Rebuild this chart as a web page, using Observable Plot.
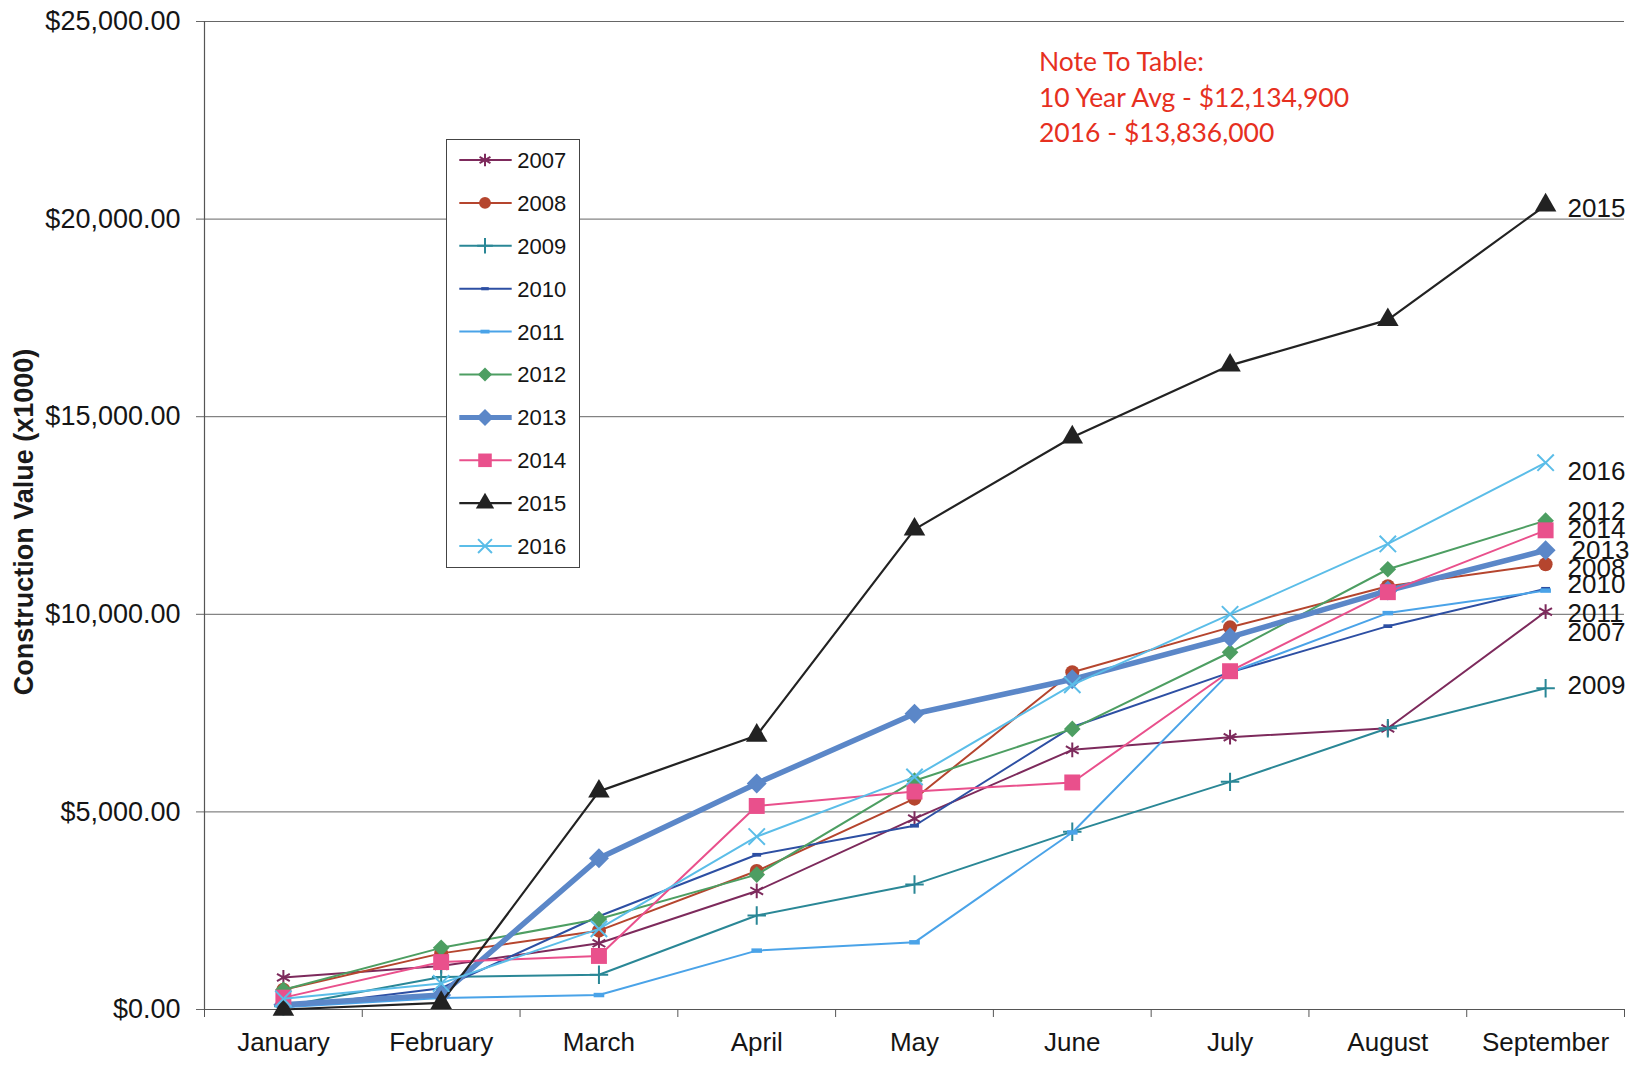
<!DOCTYPE html>
<html><head><meta charset="utf-8">
<script src="https://cdn.jsdelivr.net/npm/d3@7"></script>
<script src="https://cdn.jsdelivr.net/npm/@observablehq/plot@0.6"></script>
<style>
html,body{margin:0;padding:0;background:#fff;}
#wrap{position:relative;width:1638px;height:1066px;overflow:hidden;font-family:"Liberation Sans",Arial,sans-serif;background:#fff;}
#chart{position:absolute;left:0;top:0;}
#ytitle{position:absolute;left:24px;top:522px;transform:translate(-50%,-50%) rotate(-90deg);font-weight:bold;font-size:27px;white-space:nowrap;color:#1a1a1a;}
#note{position:absolute;left:1039px;top:44px;font-family:Lato,"Open Sans",sans-serif;font-size:26.5px;line-height:35.5px;color:#e6301f;white-space:nowrap;}
#legend{position:absolute;left:446px;top:139px;width:134px;height:429px;box-sizing:border-box;border:1.3px solid #444;background:#fff;}
#legend svg{position:absolute;left:-1.3px;top:-1.3px;}
</style></head><body>
<div id="wrap">
  <div id="chart"></div>
  <div id="ytitle">Construction Value (x1000)</div>
  <div id="note">Note To Table:<br>10 Year Avg - $12,134,900<br>2016 - $13,836,000</div>
  <div id="legend"></div>
</div>
<script>
// ---- data ----
const months = ["January","February","March","April","May","June","July","August","September"];
const years = ["2007","2008","2009","2010","2011","2012","2013","2014","2015","2016"];
const s2007 = [810, 1100, 1675, 3000, 4830, 6570, 6890, 7115, 10065];
const s2008 = [500, 1420, 1995, 3505, 5335, 8535, 9670, 10710, 11265];
const s2009 = [80, 820, 880, 2380, 3165, 4500, 5760, 7115, 8130];
const s2010 = [50, 540, 2360, 3915, 4650, 7150, 8530, 9700, 10645];
const s2011 = [60, 290, 366, 1490, 1700, 4480, 8530, 10030, 10600];
const s2012 = [500, 1560, 2290, 3413, 5790, 7100, 9040, 11140, 12370];
const s2013 = [120, 370, 3825, 5720, 7485, 8355, 9420, 10600, 11620];
const s2014 = [300, 1200, 1355, 5150, 5515, 5745, 8560, 10560, 12125];
const s2015 = [0, 170, 5520, 6935, 12150, 14480, 16300, 17450, 20350];
const s2016 = [270, 660, 2040, 4375, 5885, 8215, 10000, 11780, 13836];
const yTicks = [0, 5000, 10000, 15000, 20000, 25000];

const seriesValues = {"2007":s2007,"2008":s2008,"2009":s2009,"2010":s2010,"2011":s2011,
  "2012":s2012,"2013":s2013,"2014":s2014,"2015":s2015,"2016":s2016};

// ---- styles ----
const dash = {draw(ctx, size){ const w = Math.sqrt(size)/2, h = w*0.42;
  ctx.moveTo(-w,-h); ctx.lineTo(w,-h); ctx.lineTo(w,h); ctx.lineTo(-w,h); ctx.closePath(); }};
const styles = {
  "2007": {color:"#7d2a5c", width:2,   symbol:"asterisk", r:7,   filled:false, dy:21},
  "2008": {color:"#b5452e", width:2,   symbol:"circle",   r:7,   filled:true,  dy:4},
  "2009": {color:"#2a8796", width:2,   symbol:"plus",     r:6,   filled:false, dy:-3},
  "2010": {color:"#2d4fa3", width:2,   symbol:dash,       r:5,   filled:true,  dy:-4},
  "2011": {color:"#4aa3e8", width:2,   symbol:dash,       r:6,   filled:true,  dy:23},
  "2012": {color:"#4d9e62", width:2,   symbol:"diamond2", r:7.5, filled:true,  dy:-9},
  "2013": {color:"#5b87c8", width:5.5, symbol:"diamond2", r:9,   filled:true,  dy:0, dx:4},
  "2014": {color:"#e9508c", width:2,   symbol:"square",   r:9,   filled:true,  dy:-1},
  "2015": {color:"#222222", width:2.2, symbol:"triangle", r:8,   filled:true,  dy:3},
  "2016": {color:"#5bbde8", width:2,   symbol:"times",    r:7.5, filled:false, dy:9}
};

// ---- build ----
const monthIdx = months.map((m,i)=>i+1);
const bounds = d3.range(0.5, months.length + 1, 1);

const marks = [
  Plot.gridY(yTicks, {stroke:"#666", strokeOpacity:1, strokeWidth:1}),
  Plot.axisY(yTicks, {tickSize:8, tickPadding:16, tickFormat:d3.format("$,.2f"), fontSize:27,
    label:null, stroke:"#666", fill:"#151515"}),
  Plot.ruleX([0.5], {stroke:"#555", strokeWidth:1.2}),
  Plot.ruleY([0], {stroke:"#555", strokeWidth:1.2}),
  Plot.axisX(bounds, {tickSize:8, tickFormat:()=>"", stroke:"#555", label:null}),
  Plot.axisX(monthIdx, {tickSize:0, tickPadding:23, tickFormat:i=>months[i-1], fontSize:26,
    label:null, fill:"#151515"})
];

for (const yr of years) {
  const st = styles[yr];
  const rows = seriesValues[yr].map((v,i)=>({m:i+1, v}));
  marks.push(Plot.line(rows, {x:"m", y:"v", stroke:st.color, strokeWidth:st.width, strokeLinejoin:"round"}));
  marks.push(Plot.dot(rows, {x:"m", y:"v", symbol:st.symbol, r:st.r,
    fill: st.filled ? st.color : "none",
    stroke: st.filled ? "none" : st.color,
    strokeWidth: st.filled ? 0 : 2}));
}
for (const yr of years) {
  const st = styles[yr];
  const vals = seriesValues[yr];
  const last = [{m:months.length, v:vals[vals.length-1], t:yr}];
  marks.push(Plot.text(last, {x:"m", y:"v", text:"t", textAnchor:"start", dx:22 + (st.dx||0), dy:st.dy,
    fontSize:26, fill:"#151515"}));
}

const chart = Plot.plot({
  width:1638, height:1066,
  marginTop:21, marginBottom:57, marginLeft:204, marginRight:14,
  style:{fontFamily:'"Liberation Sans", Arial, sans-serif', background:"#fff", overflow:"visible"},
  x:{type:"linear", domain:[0.5, 9.5]},
  y:{type:"linear", domain:[0, 25000]},
  marks
});
document.getElementById("chart").appendChild(chart);

// ---- legend ----
const lg = d3.select("#legend").append("svg").attr("width",134).attr("height",429);
years.forEach((yr, i) => {
  const st = styles[yr];
  const cy = 21 + i*42.9;
  const g = lg.append("g").attr("transform", `translate(0,${cy})`);
  g.append("line").attr("x1",13.3).attr("x2",65.7).attr("y1",0).attr("y2",0)
    .attr("stroke",st.color).attr("stroke-width",st.width === 5.5 ? 5 : st.width);
  const symType = typeof st.symbol === "string" ? ({
    asterisk:d3.symbolAsterisk, circle:d3.symbolCircle, plus:d3.symbolPlus, diamond2:d3.symbolDiamond2,
    square:d3.symbolSquare, triangle:d3.symbolTriangle, times:d3.symbolTimes})[st.symbol] : st.symbol;
  const rr = st.r * 0.85;
  g.append("path").attr("transform","translate(39,0)")
    .attr("d", d3.symbol(symType, rr*rr*Math.PI)())
    .attr("fill", st.filled ? st.color : "none")
    .attr("stroke", st.filled ? "none" : st.color)
    .attr("stroke-width", st.filled ? 0 : 2);
  g.append("text").attr("x",71.3).attr("y",0).attr("dy","0.36em")
    .attr("font-size",22).attr("fill","#151515")
    .attr("font-family",'"Liberation Sans", Arial, sans-serif').text(yr);
});
</script>
</body></html>
